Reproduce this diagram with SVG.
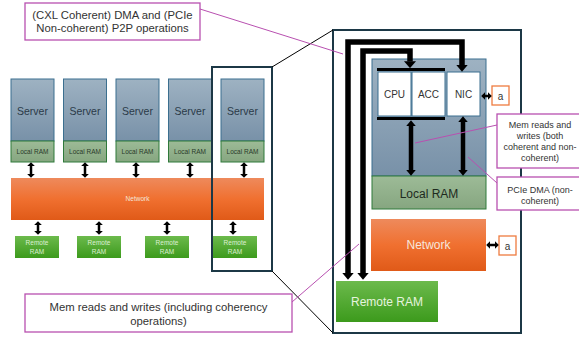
<svg xmlns="http://www.w3.org/2000/svg" width="579" height="339" viewBox="0 0 579 339">
<defs>
<linearGradient id="gSrv" x1="0" y1="0" x2="0" y2="1"><stop offset="0" stop-color="#9eb2c2"/><stop offset="1" stop-color="#7891a8"/></linearGradient>
<linearGradient id="gRam" x1="0" y1="0" x2="0" y2="1"><stop offset="0" stop-color="#9dbb97"/><stop offset="1" stop-color="#86a680"/></linearGradient>
<linearGradient id="gNet" x1="0" y1="0" x2="0" y2="1"><stop offset="0" stop-color="#ee8a5c"/><stop offset="0.5" stop-color="#f07030"/><stop offset="1" stop-color="#e05a18"/></linearGradient>
<linearGradient id="gRem" x1="0" y1="0" x2="0" y2="1"><stop offset="0" stop-color="#6cba4c"/><stop offset="1" stop-color="#3c9a1c"/></linearGradient>
<marker id="ahS" viewBox="0 0 10 10" refX="0.5" refY="5" markerWidth="4" markerHeight="8" markerUnits="userSpaceOnUse" orient="auto-start-reverse" preserveAspectRatio="none"><path d="M0,0 L10,5 L0,10 z" fill="#000"/></marker>
<marker id="ahB" viewBox="0 0 10 10" refX="0.5" refY="5" markerWidth="7" markerHeight="12" markerUnits="userSpaceOnUse" orient="auto-start-reverse" preserveAspectRatio="none"><path d="M0,0 L10,5 L0,10 z" fill="#000"/></marker>
<marker id="ahM" viewBox="0 0 10 10" refX="0.5" refY="5" markerWidth="6" markerHeight="10" markerUnits="userSpaceOnUse" orient="auto-start-reverse" preserveAspectRatio="none"><path d="M0,0 L10,5 L0,10 z" fill="#000"/></marker>
</defs>
<style>
text{font-family:"Liberation Sans",Arial,sans-serif;text-anchor:middle}
.srv{fill:url(#gSrv);stroke:#3b6f8f;stroke-width:1}
.ram{fill:url(#gRam);stroke:#2f7a3a;stroke-width:1}
.net{fill:url(#gNet)}
.rem{fill:url(#gRem)}
.call{fill:#fff;stroke:#b850b0;stroke-width:1.3}
.cl{stroke:#b850b0;stroke-width:1;fill:none}
.blk{stroke:#000;stroke-width:1;fill:none}
.hl{fill:none;stroke:#1c3846;stroke-width:2}
.chip{fill:#fff;stroke:#3b6f8f;stroke-width:1}
.abox{fill:#fff;stroke:#ee7c40;stroke-width:1.3}
.sa{stroke:#000;stroke-width:2.5;marker-start:url(#ahS);marker-end:url(#ahS)}
.ba{stroke:#000;stroke-width:5.5;fill:none;marker-start:url(#ahB);marker-end:url(#ahB)}
.ma{stroke:#000;stroke-width:4.5;marker-start:url(#ahM);marker-end:url(#ahM)}
.t10{font-size:10px;fill:#333}
.t11{font-size:11.3px;fill:#333}
.t8{font-size:9px;fill:#333}
.ts{font-size:10.5px;fill:#2a3a48}
.tr{font-size:6.5px;fill:#2a3a2a}
.tw{font-size:6.5px;fill:#f3e6dc}
.tg{font-size:6.5px;fill:#dcefd2}
.tbig{font-size:12px}
</style>

<g id="servers">
<g id="server1"><rect class="srv" x="11" y="79" width="43" height="62"/><text class="ts" x="32.5" y="114.5">Server</text><rect class="ram" x="11" y="141" width="43" height="21"/><text class="tr" x="32.5" y="154">Local RAM</text></g>
<g id="server2"><rect class="srv" x="63.5" y="79" width="43" height="62"/><text class="ts" x="85" y="114.5">Server</text><rect class="ram" x="63.5" y="141" width="43" height="21"/><text class="tr" x="85" y="154">Local RAM</text></g>
<g id="server3"><rect class="srv" x="116" y="79" width="43" height="62"/><text class="ts" x="137.5" y="114.5">Server</text><rect class="ram" x="116" y="141" width="43" height="21"/><text class="tr" x="137.5" y="154">Local RAM</text></g>
<g id="server4"><rect class="srv" x="168.5" y="79" width="43" height="62"/><text class="ts" x="190" y="114.5">Server</text><rect class="ram" x="168.5" y="141" width="43" height="21"/><text class="tr" x="190" y="154">Local RAM</text></g>
<g id="server5"><rect class="srv" x="221" y="79" width="43" height="62"/><text class="ts" x="242.5" y="114.5">Server</text><rect class="ram" x="221" y="141" width="43" height="21"/><text class="tr" x="242.5" y="154">Local RAM</text></g>
</g>

<g id="network-left"><rect class="net" x="11" y="178" width="253" height="42"/><text class="tw" x="137.5" y="200.5">Network</text></g>

<g id="remote-rams">
<g id="remote1"><rect class="rem" x="15" y="236" width="44" height="22"/><text class="tg" x="37" y="244.5">Remote</text><text class="tg" x="37" y="253.5">RAM</text></g>
<g id="remote2"><rect class="rem" x="77" y="236" width="44" height="22"/><text class="tg" x="99" y="244.5">Remote</text><text class="tg" x="99" y="253.5">RAM</text></g>
<g id="remote3"><rect class="rem" x="145" y="236" width="44" height="22"/><text class="tg" x="167" y="244.5">Remote</text><text class="tg" x="167" y="253.5">RAM</text></g>
<g id="remote4"><rect class="rem" x="213" y="236" width="44" height="22"/><text class="tg" x="235" y="244.5">Remote</text><text class="tg" x="235" y="253.5">RAM</text></g>
</g>

<g id="highlight"><rect class="hl" x="212" y="67" width="60" height="204"/></g>

<g id="detail">
<rect class="hl" x="333" y="30" width="188" height="303"/>
<g id="server-detail"><rect class="srv" x="372" y="59" width="114" height="117"/></g>
<g id="localram-detail"><rect class="ram" x="372" y="176" width="114" height="33"/><text class="tbig" x="429" y="197.5" fill="#1e2a1e">Local RAM</text></g>
<g id="cpu"><rect class="chip" x="378" y="72" width="33" height="44"/><text class="t10" x="394.5" y="98">CPU</text></g>
<g id="acc"><rect class="chip" x="412" y="72" width="33" height="44"/><text class="t10" x="428.5" y="98">ACC</text></g>
<g id="nic"><rect class="chip" x="447" y="72" width="33" height="44"/><text class="t10" x="463.5" y="98">NIC</text></g>
<g id="bars"><rect x="377" y="68" width="68" height="3" fill="#000"/><rect x="377" y="117" width="68" height="3" fill="#000"/></g>
<g id="a1"><rect class="abox" x="492" y="86" width="17" height="19"/><text class="t10" x="500.5" y="99.5">a</text></g>
<g id="network-detail"><rect class="net" x="371" y="219" width="115" height="52"/><text class="tbig" x="428.5" y="249" fill="#f6e6dc">Network</text></g>
<g id="a2"><rect class="abox" x="499" y="236" width="17" height="19"/><text class="t10" x="507.5" y="249.5">a</text></g>
<g id="remote-detail"><rect class="rem" x="336" y="281" width="102" height="41"/><text class="tbig" x="387" y="305.5" fill="#e6f4df">Remote RAM</text></g>
</g>

<g id="callouts">
<g id="callout-top"><rect class="call" x="25" y="3" width="175" height="37"/><text class="t11" x="112.5" y="19">(CXL Coherent) DMA and (PCIe</text><text class="t11" x="112.5" y="32">Non-coherent) P2P operations</text></g>
<g id="callout-bottom"><rect class="call" x="25" y="294" width="267" height="38"/><text class="t11" x="158.5" y="311">Mem reads and writes (including coherency</text><text class="t11" x="158.5" y="325">operations)</text></g>
<g id="callout-mem"><rect class="call" x="497" y="114" width="90" height="54"/><text class="t8" x="540" y="128">Mem reads and</text><text class="t8" x="540" y="139">writes (both</text><text class="t8" x="540" y="150">coherent and non-</text><text class="t8" x="540" y="161">coherent)</text></g>
<g id="callout-pcie"><rect class="call" x="497" y="177" width="90" height="33"/><text class="t8" x="540" y="193">PCIe DMA (non-</text><text class="t8" x="540" y="204">coherent)</text></g>
</g>

<g id="connectors">
<line class="sa" x1="31" y1="166" x2="31" y2="174"/>
<line class="sa" x1="85" y1="166" x2="85" y2="174"/>
<line class="sa" x1="136" y1="166" x2="136" y2="174"/>
<line class="sa" x1="190" y1="166" x2="190" y2="174"/>
<line class="sa" x1="244" y1="166" x2="244" y2="174"/>
<line class="sa" x1="38" y1="225" x2="38" y2="231"/>
<line class="sa" x1="99" y1="225" x2="99" y2="231"/>
<line class="sa" x1="167" y1="225" x2="167" y2="231"/>
<line class="sa" x1="233" y1="225" x2="233" y2="231"/>
<line class="blk" x1="272" y1="67" x2="333" y2="30"/>
<line class="blk" x1="272" y1="271" x2="333" y2="333"/>
<path class="ba" d="M348,273 V42 H462 V65"/>
<path class="ba" d="M363,273 V51 H410 V61.5"/>
<line class="ma" x1="411" y1="126" x2="411" y2="170"/>
<line class="ma" x1="463" y1="122" x2="463" y2="170"/>
<line class="sa" x1="485" y1="96" x2="488" y2="96"/>
<line class="sa" x1="490" y1="245" x2="495" y2="245"/>
<line class="cl" x1="200" y1="9" x2="343" y2="54"/>
<line class="cl" x1="292" y1="302" x2="359" y2="244"/>
<line class="cl" x1="497" y1="125" x2="415" y2="143"/>
<line class="cl" x1="468" y1="157" x2="497" y2="183"/>
</g>
</svg>
